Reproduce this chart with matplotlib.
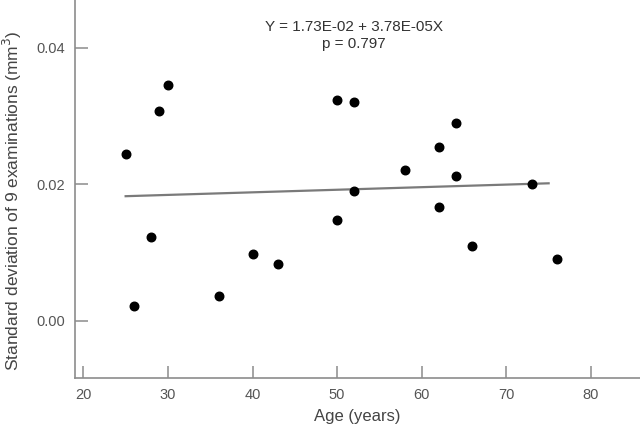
import numpy as np
import matplotlib
matplotlib.use("Agg")
import matplotlib.pyplot as plt

plt.rcParams['font.family'] = ['Liberation Sans', 'DejaVu Sans']

# data
age = [25, 26, 28, 29, 30, 36, 40, 43, 50, 50, 52, 52, 58, 62, 62, 64, 64, 66, 73, 76]
sd = [0.0245, 0.0022, 0.0123, 0.0308, 0.0345, 0.0036, 0.0098, 0.0083,
      0.0324, 0.0147, 0.0321, 0.0190, 0.0221, 0.0255, 0.0166, 0.0290,
      0.0212, 0.0110, 0.0201, 0.0091]

intercept = 1.73e-2
slope = 3.78e-5
fit_x = np.array([25, 75])
eq_text = "Y = 1.73E-02 + 3.78E-05X\np = 0.797"

xticks = [20, 30, 40, 50, 60, 70, 80]
yticks = [0.00, 0.02, 0.04]

fig = plt.figure(figsize=(6.4, 4.32), dpi=100)
ax = fig.add_axes([0.117, 0.125, 0.883, 0.875])

ax.plot(fit_x, intercept + slope * fit_x, color='#7a7a7a', lw=1.6, zorder=1)
ax.scatter(age, sd, s=38, color='black', zorder=2)

ax.set_xlim(19.0, 85.8)
ax.set_ylim(-0.0084, 0.047)
ax.set_xticks(xticks)
ax.set_yticks(yticks)
ax.set_yticklabels([f"{v:.2f}" for v in yticks])

for s in ['top', 'right']:
    ax.spines[s].set_visible(False)
for s in ['left', 'bottom']:
    ax.spines[s].set_color('#8c8c8c')
    ax.spines[s].set_linewidth(1.2)
ax.tick_params(direction='in', length=9, width=1.1, color='#8c8c8c',
               labelcolor='#555555', labelsize=10.5, pad=7)

ax.text(52, 0.0418, eq_text, ha='center', va='center', fontsize=11,
        color='#333333', linespacing=1.3)

ax.set_xlabel("Age (years)", fontsize=12, color='#444444', labelpad=5)
ax.set_ylabel("Standard deviation of 9 examinations (mm$^3$)", fontsize=12.5,
              color='#444444')
ax.yaxis.set_label_coords(-0.09, 0.47)

fig.savefig("out.png", dpi=100)
